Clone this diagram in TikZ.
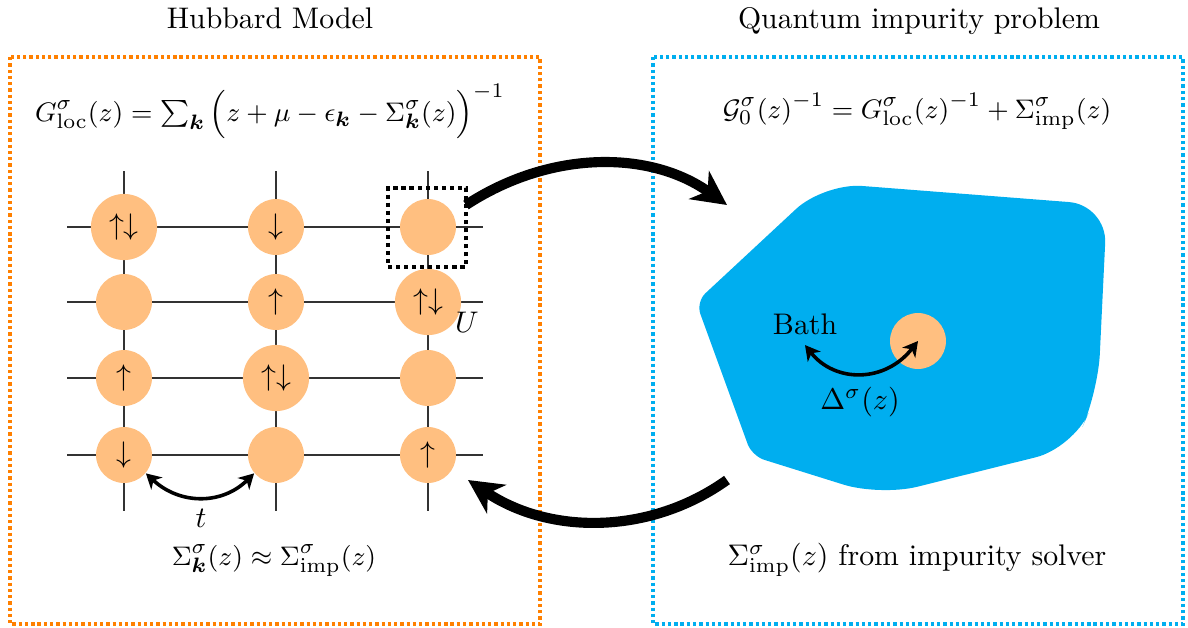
\documentclass[tikz,border=0pt]{standalone}
\usepackage{amsmath,bm}
\usetikzlibrary{arrows.meta}
\definecolor{hubbardorange}{RGB}{255,128,0}
\definecolor{bathblue}{RGB}{0,174,239}
\begin{document}
\begin{tikzpicture}[x=0.0118cm, y=-0.0118cm]
  \tikzstyle{site}=[circle,fill=orange!50,minimum size=0.66cm,inner sep=0pt]
  \tikzstyle{dsite}=[site,minimum size=0.78cm]
  \tikzstyle{formula}=[anchor=base,font=\fontsize{9.4pt}{11pt}\selectfont]
  \tikzstyle{panel}=[line width=1.3pt,dash pattern=on 1.1pt off 1pt]
  \tikzstyle{bigarrow}=[line width=3.4pt,-{Stealth[length=11.5pt,width=11.5pt,inset=3.5pt]}]
  \tikzstyle{hop}=[line width=1.2pt,{Stealth[length=5pt,width=5.5pt,inset=1.5pt]}-{Stealth[length=5pt,width=5.5pt,inset=1.5pt]}]
  \useasboundingbox (0,0) rectangle (1188,627);
  % panels and titles
  \draw[panel,hubbardorange] (10,57) rectangle (540,624);
  \draw[panel,bathblue] (653,57) rectangle (1183,624);
  \node[anchor=base] (hubtitle) at (270,28) {Hubbard Model};
  \node[anchor=base] (imptitle) at (919,28) {Quantum impurity problem};
  \node[formula] (glocal) at (270,121)
    {$G^\sigma_{\mathrm{loc}}(z) = \sum_{\bm{k}}\, \Bigl( z + \mu - \epsilon_{\bm{k}} - \Sigma^\sigma_{\bm{k}}(z) \Bigr)^{-1}$};
  \node[formula] (dyson) at (917,118)
    {$\mathcal{G}^\sigma_0(z)^{-1} = G^\sigma_{\mathrm{loc}}(z)^{-1} + \Sigma^\sigma_{\mathrm{imp}}(z)$};
  \node[formula] (approx) at (274,565) {$\Sigma^\sigma_{\bm{k}}(z) \approx \Sigma^\sigma_{\mathrm{imp}}(z)$};
  \node[anchor=base] (solver) at (917,565) {$\Sigma^\sigma_{\mathrm{imp}}(z)$ from impurity solver};
  % lattice
  \foreach \x in {124,276,428}
    \draw[black!80,line width=0.4pt] (\x,171) -- (\x,511);
  \foreach \y in {227,302,378,455}
    \draw[black!80,line width=0.4pt] (67,\y) -- (483,\y);
  \node[dsite] (s11) at (124,227) {$\uparrow\downarrow$};
  \node[site] (s12) at (276,227) {$\downarrow$};
  \node[site] (s13) at (428,227) {};
  \node[site] (s21) at (124,302) {};
  \node[site] (s22) at (276,302) {$\uparrow$};
  \node[dsite] (s23) at (428,302) {$\uparrow\downarrow$};
  \node[site] (s31) at (124,378) {$\uparrow$};
  \node[dsite] (s32) at (276,378) {$\uparrow\downarrow$};
  \node[site] (s33) at (428,378) {};
  \node[site] (s41) at (124,455) {$\downarrow$};
  \node[site] (s42) at (276,455) {};
  \node[site] (s43) at (428,455) {$\uparrow$};
  \node[draw,line width=1.5pt,dash pattern=on 1.4pt off 1.3pt,minimum width=0.92cm,minimum height=0.93cm] (imsite) at (427,227.5) {};
  \node (ulabel) at (467,322) {$U$};
  \draw[hop] (s41.-40) .. controls (180,505) and (222,505) .. (s42.220);
  \node (tlabel) at (201,518) {$t$};
  % impurity and bath
  \fill[bathblue,rounded corners=0.45cm] (696,302) -- (824,183) -- (1107,205)
    -- (1098,392) -- (1073,448) -- (880,496) [rounded corners=0.15cm] -- (752,456) -- cycle;
  \node[site] (imp) at (918,341) {};
  \node (bath) at (805,324) {Bath};
  \draw[hop] (bath.south) .. controls (835,383) and (885,383) .. (imp.center);
  \node (hyb) at (860,402) {$\Delta^\sigma(z)$};
  % self-consistency loop
  \coordinate (gridout) at (466,205);
  \coordinate (blobin) at (727,205);
  \coordinate (blobout) at (727,480);
  \coordinate (gridin) at (468,480);
  \draw[bigarrow] (gridout) .. controls (550,150) and (650,150) .. (blobin);
  \draw[bigarrow] (blobout) .. controls (650,535) and (550,535) .. (gridin);
\end{tikzpicture}
\end{document}
